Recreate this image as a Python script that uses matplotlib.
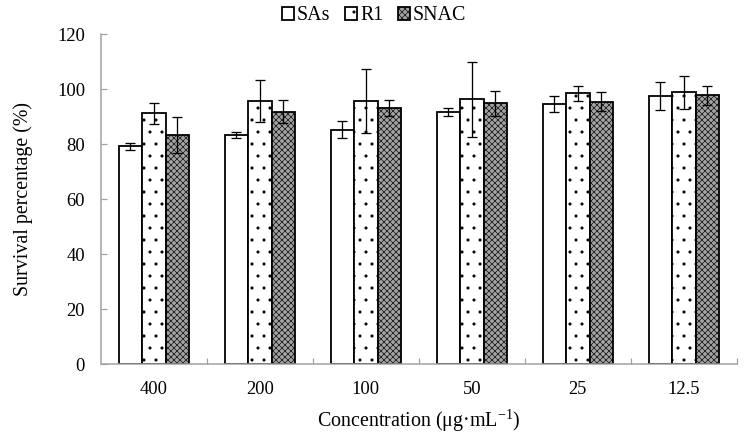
import numpy as np
import matplotlib
matplotlib.use("Agg")
import matplotlib.pyplot as plt

# dpi 72 so that 1 pt == 1 px and the dot hatch gets a ~12 px pitch
plt.rcParams['font.family'] = ['Liberation Serif', 'DejaVu Serif']
plt.rcParams['mathtext.fontset'] = 'custom'
plt.rcParams['mathtext.rm'] = 'Liberation Serif'
plt.rcParams['hatch.linewidth'] = 0.6

concentrations = ['400', '200', '100', '50', '25', '12.5']
series_names = ['SAs', 'R1', 'SNAC']
sas_mean = [79.3, 83.4, 85.3, 91.8, 94.7, 97.5]
sas_err = [1.3, 1.1, 3.0, 1.5, 2.9, 5.0]
r1_mean = [91.3, 95.7, 95.7, 96.4, 98.5, 98.9]
r1_err = [3.8, 7.7, 11.7, 13.7, 2.7, 6.1]
snac_mean = [83.4, 91.8, 93.2, 94.9, 95.5, 97.8]
snac_err = [6.7, 4.2, 2.8, 4.5, 3.4, 3.5]

fig = plt.figure(figsize=(748 / 72, 440 / 72), dpi=72)
ax = fig.add_axes([0.135, 0.172, 0.85, 0.75])

x = np.arange(len(concentrations))
w = 0.222
styles = [
    dict(facecolor='white', hatch=None),
    dict(facecolor='white', hatch='.'),
    dict(facecolor='#a2a2a2', hatch='xxxx'),
]
means = [sas_mean, r1_mean, snac_mean]
errs = [sas_err, r1_err, snac_err]
handles = []
for i, (m, e, st) in enumerate(zip(means, errs, styles)):
    b = ax.bar(x + (i - 1) * w, m, w, facecolor=st['facecolor'], hatch=st['hatch'],
               edgecolor='black', linewidth=1.8, label=series_names[i], zorder=2)
    ax.errorbar(x + (i - 1) * w, m, yerr=e, fmt='none', ecolor='black',
                elinewidth=1.3, capsize=5, capthick=1.3, zorder=3)
    handles.append(b)

ax.set_xlim(-0.5, len(concentrations) - 0.5)
ax.set_ylim(0, 120)
ax.set_yticks(range(0, 121, 20))
ax.set_xticks(x)
ax.set_xticklabels(concentrations, fontsize=18.5)
ax.set_xticks(np.arange(len(concentrations)) + 0.5, minor=True)
ax.tick_params(axis='x', which='major', length=0, pad=17)
ax.tick_params(axis='x', which='minor', direction='in', length=6, width=1.2, color='#a0a0a0')
ax.tick_params(axis='y', direction='in', length=6, width=1.2, color='#a0a0a0',
               labelsize=18.5, pad=16)
for s in ['top', 'right']:
    ax.spines[s].set_visible(False)
for s in ['left', 'bottom']:
    ax.spines[s].set_color('#a0a0a0')
    ax.spines[s].set_linewidth(1.5)

ax.set_ylabel('Survival percentage (%)', fontsize=20, labelpad=24)
ax.set_xlabel('Concentration (μg·mL$^{-1}$)', fontsize=20, labelpad=9)

fig.legend(handles=handles, loc='center', bbox_to_anchor=(0.5, 0.964), ncol=3,
           frameon=False, fontsize=20, handlelength=0.6, handleheight=0.6,
           handletextpad=0.15, columnspacing=0.75, borderpad=0.1)

fig.savefig('out.png', dpi=72)
